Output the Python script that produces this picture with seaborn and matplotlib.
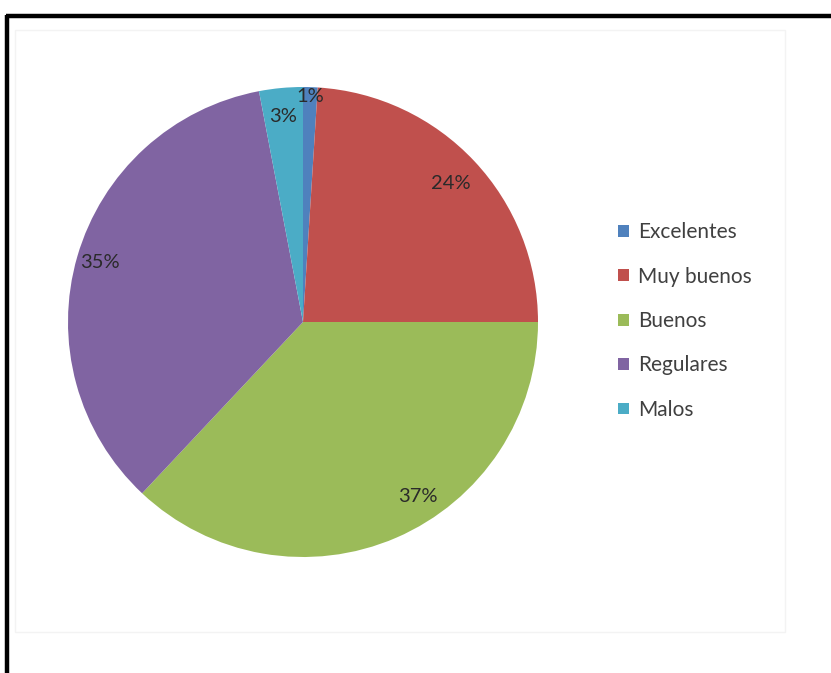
import matplotlib
matplotlib.use("Agg")
import matplotlib.pyplot as plt
from matplotlib.lines import Line2D
from matplotlib.patches import Rectangle
import numpy as np
import seaborn as sns

categories = ["Excelentes", "Muy buenos", "Buenos", "Regulares", "Malos"]
percentages = [1, 24, 37, 35, 3]
colors = ["#4F81BD", "#C0504D", "#9BBB59", "#8064A2", "#4BACC6"]

sns.set_theme(style="white")
plt.rcParams["font.family"] = ["Lato", "DejaVu Sans"]

W, H = 831, 673
fig = plt.figure(figsize=(W / 100, H / 100), dpi=100)
fig.patch.set_facecolor("white")

# faint plot-area outline
fig.add_artist(Rectangle((15 / W, 1 - 632 / H), 770 / W, 602 / H,
                         transform=fig.transFigure, fill=False,
                         edgecolor="#f3f3f3", linewidth=1.0))

# dark frame on top and left
fig.add_artist(Line2D([6 / W, 1.0], [1 - 16 / H, 1 - 16 / H],
                      transform=fig.transFigure, color="black", linewidth=3.2,
                      solid_capstyle="butt"))
fig.add_artist(Line2D([7 / W, 7 / W], [0.0, 1 - 14.5 / H],
                      transform=fig.transFigure, color="black", linewidth=3.2,
                      solid_capstyle="butt"))

cx, cy, r = 303, 322, 235
ax = fig.add_axes([(cx - r) / W, 1 - (cy + r) / H, 2 * r / W, 2 * r / H])
wedges, _ = ax.pie(percentages, colors=colors, startangle=90, counterclock=False,
                   wedgeprops=dict(linewidth=0))
ax.set_xlim(-1, 1)
ax.set_ylim(-1, 1)
ax.set_aspect("equal")
ax.axis("off")

# percentage labels inside each slice
label_radius = [0.96, 0.86, 0.89, 0.90, 0.88]
angle_shift = [0, 0, 10, 0, 0]
for w, p, rr, sh in zip(wedges, percentages, label_radius, angle_shift):
    mid = np.deg2rad((w.theta1 + w.theta2) / 2 + sh)
    ax.text(rr * np.cos(mid), rr * np.sin(mid), f"{p}%", ha="center", va="center",
            fontsize=14.5, color="#2a2a2a")

handles = [Rectangle((0, 0), 1, 1, facecolor=c, edgecolor="none") for c in colors]
fig.legend(handles, categories, loc="upper left",
           bbox_to_anchor=(610 / W, 1 - 214 / H), frameon=False,
           fontsize=15, labelcolor="#404040", handlelength=0.5, handleheight=0.5,
           handletextpad=0.45, labelspacing=1.17, borderaxespad=0)

fig.savefig("out.png", dpi=100, facecolor="white")
